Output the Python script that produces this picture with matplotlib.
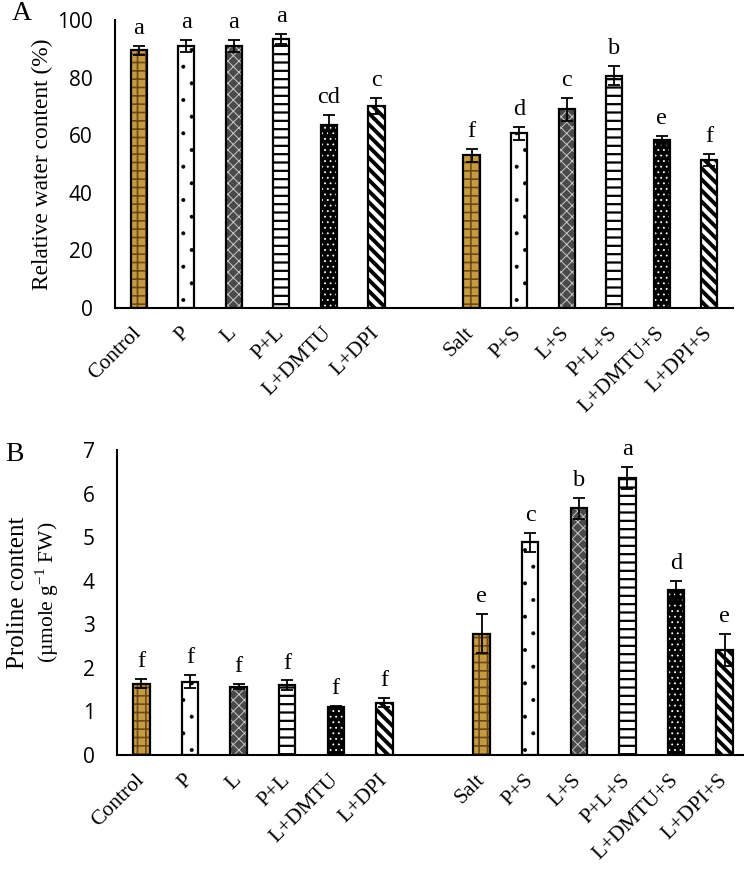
import matplotlib
matplotlib.use("Agg")
import matplotlib.pyplot as plt
import numpy as np

# treatments (one empty slot between the non-salt and salt groups)
labels_a = ["Control", "P", "L", "P+L", "L+DMTU", "L+DPI"]
labels_b = ["Salt", "P+S", "L+S", "P+L+S", "L+DMTU+S", "L+DPI+S"]

# A: relative water content (%)
rwc = [89.5, 91.0, 91.0, 93.4, 63.5, 70.1, 53.0, 60.6, 69.0, 80.7, 58.3, 51.4]
rwc_err = [1.5, 2.0, 2.2, 1.8, 3.6, 2.9, 2.2, 2.2, 4.0, 3.4, 1.4, 2.1]
rwc_letters = ["a", "a", "a", "a", "cd", "c", "f", "d", "c", "b", "e", "f"]

# B: proline content (umole g-1 FW)
proline = [1.64, 1.68, 1.57, 1.60, 1.11, 1.20, 2.78, 4.88, 5.66, 6.36, 3.78, 2.41]
proline_err = [0.10, 0.15, 0.05, 0.11, 0.02, 0.10, 0.45, 0.22, 0.24, 0.25, 0.22, 0.37]
proline_letters = ["f", "f", "f", "f", "f", "f", "e", "c", "b", "a", "d", "e"]

# fill style per treatment: (facecolor, hatch, hatch colour, hatch linewidth)
styles = [
    ("#c49a42", "++", "#6e4814", 1.2),   # Control / Salt
    ("white", ".", "black", 0.4),        # P
    ("#4a4a4a", "xxx", "#c8c8c8", 0.7),  # L
    ("white", "--", "black", 1.6),       # P+L
    ("black", "...", "white", 0.6),      # L+DMTU
    ("white", "\\\\\\", "black", 2.8),   # L+DPI
]

serif = "Liberation Serif"
sans = "Open Sans"

fig = plt.figure(figsize=(7.44, 8.69), dpi=100)
W, H = 744, 869


def panel(rect, values, errs, letters, ymax, ystep):
    ax = fig.add_axes(rect)
    labels = labels_a + labels_b
    x = [i for i in range(6)] + [i + 7 for i in range(6)]
    for i, (xi, v) in enumerate(zip(x, values)):
        fc, hatch, hc, hlw = styles[i % 6]
        with plt.rc_context({"hatch.linewidth": hlw}):
            b = ax.bar(xi, v, width=0.34, color=fc, hatch=hatch,
                       edgecolor=hc, linewidth=0, zorder=2)
        for p in b:
            if hasattr(p, "set_hatch_linewidth"):
                p.set_hatch_linewidth(hlw)
        ax.bar(xi, v, width=0.34, color="none", edgecolor="black",
               linewidth=1.6, zorder=3)
    ax.errorbar(x, values, yerr=errs, fmt="none", ecolor="black",
                elinewidth=1.3, capsize=4.5, capthick=1.3, zorder=4)
    for xi, v, e, t in zip(x, values, errs, letters):
        ax.annotate(t, (xi, v + e), xytext=(0, 5), textcoords="offset points",
                    ha="center", va="bottom", fontsize=17.5, family=serif)
    ax.set_xlim(-0.5, 12.5)
    ax.set_ylim(0, ymax)
    ax.set_yticks(np.arange(0, ymax + 0.1, ystep))
    ax.set_yticklabels([str(int(t)) for t in np.arange(0, ymax + 0.1, ystep)],
                       family=sans, fontsize=15)
    ax.set_xticks(x)
    ax.set_xticklabels(labels, rotation=45, ha="right", va="center",
                       rotation_mode="anchor", family=serif, fontsize=15.5)
    ax.tick_params(axis="both", length=0)
    ax.tick_params(axis="y", pad=16)
    ax.tick_params(axis="x", pad=16)
    for s in ["top", "right"]:
        ax.spines[s].set_visible(False)
    for s in ["left", "bottom"]:
        ax.spines[s].set_linewidth(1.5)
    ax.patch.set_alpha(0)
    return ax


# axes rectangles from pixel positions in the reference
ax_a = panel([115 / W, 1 - 308 / H, 618 / W, 288 / H],
             rwc, rwc_err, rwc_letters, 100, 20)
ax_b = panel([117 / W, 1 - 755 / H, 632 / W, 305 / H],
             proline, proline_err, proline_letters, 7, 1)

fig.text(42 / W, 1 - 164 / H, "Relative water content (%)", rotation=90,
         ha="center", va="center", family=serif, fontsize=16.8)
fig.text(18 / W, 1 - 593 / H, "Proline content", rotation=90,
         ha="center", va="center", family=serif, fontsize=18)
fig.text(47 / W, 1 - 592 / H, "(µmole g$^{\\mathregular{-1}}$ FW)", rotation=90,
         ha="center", va="center", family=serif, fontsize=15.5)

fig.text(22 / W, 1 - 14 / H, "A", ha="center", va="center",
         family=serif, fontsize=20)
fig.text(14 / W, 1 - 454 / H, "B", ha="center", va="center",
         family=serif, fontsize=20)

fig.savefig("out.png", dpi=100)
